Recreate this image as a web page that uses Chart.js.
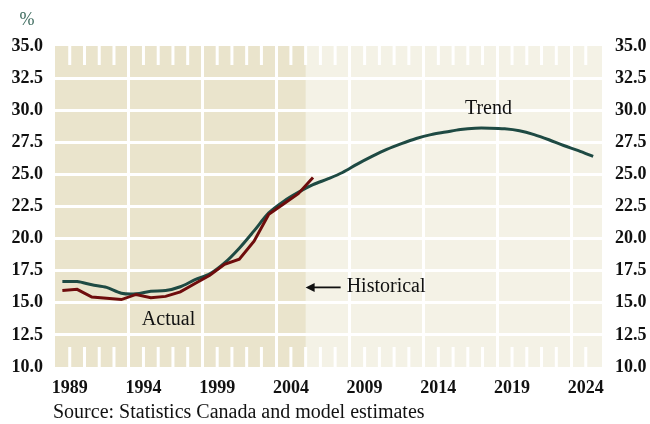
<!DOCTYPE html>
<html>
<head>
<meta charset="utf-8">
<script src="https://cdn.jsdelivr.net/npm/chart.js@4.4.1/dist/chart.umd.min.js"></script>
<style>
  html, body { margin: 0; padding: 0; background: #ffffff; }
</style>
</head>
<body>
<canvas id="trendChart" width="650" height="424"></canvas>
<script>
// Annual data, each year plotted at mid-year
const actualYears = [1988, 1989, 1990, 1991, 1992, 1993, 1994, 1995, 1996, 1997,
    1998, 1999, 2000, 2001, 2002, 2003, 2004, 2005];
const actualValues = [15.95, 16.05, 15.45, 15.35, 15.25, 15.65, 15.4, 15.5, 15.85, 16.5,
    17.15, 18.0, 18.4, 19.8, 21.9, 22.7, 23.5, 24.75];

const trendYears = [1988, 1989, 1990, 1991, 1992, 1993, 1994, 1995, 1996, 1997,
    1998, 1999, 2000, 2001, 2002, 2003, 2004, 2005, 2006, 2007,
    2008, 2009, 2010, 2011, 2012, 2013, 2014, 2015, 2016, 2017,
    2018, 2019, 2020, 2021, 2022, 2023, 2024];
const trendValues = [16.65, 16.65, 16.4, 16.2, 15.75, 15.7, 15.9, 15.95, 16.25, 16.8,
    17.25, 18.1, 19.25, 20.6, 22.0, 22.9, 23.6, 24.2, 24.65, 25.15,
    25.8, 26.4, 26.95, 27.4, 27.8, 28.1, 28.3, 28.5, 28.6, 28.6,
    28.55, 28.4, 28.1, 27.7, 27.25, 26.85, 26.4];

const xLabelYears = [1989, 1994, 1999, 2004, 2009, 2014, 2019, 2024];
const gridYears = [1993, 1998, 2003, 2008, 2013, 2018, 2023];
const historicalEnd = 2005;

const serif = "'Liberation Serif', 'Times New Roman', serif";
Chart.defaults.font.family = serif;

// Backgrounds, short year ticks and the text notes
const decorPlugin = {
    id: 'decor',
    beforeDraw(chart) {
        const { ctx, chartArea: a, scales: { x } } = chart;
        const xHist = x.getPixelForValue(historicalEnd);
        ctx.save();
        ctx.fillStyle = '#f4f2e6';
        ctx.fillRect(a.left, a.top, a.right - a.left, a.bottom - a.top);
        ctx.fillStyle = '#eae4cc';
        ctx.fillRect(a.left, a.top, xHist - a.left, a.bottom - a.top);
        ctx.restore();
    },
    beforeDatasetsDraw(chart) {
        const { ctx, chartArea: a, scales: { x } } = chart;
        ctx.save();
        ctx.strokeStyle = '#ffffff';
        ctx.lineWidth = 3;
        x.ticks.forEach(t => {
            if (gridYears.includes(t.value)) return;
            const px = x.getPixelForValue(t.value);
            ctx.beginPath();
            ctx.moveTo(px, a.top);
            ctx.lineTo(px, a.top + 19);
            ctx.moveTo(px, a.bottom);
            ctx.lineTo(px, a.bottom - 20);
            ctx.stroke();
        });
        ctx.restore();
    },
    afterDraw(chart) {
        const { ctx, scales: { x, y } } = chart;
        ctx.save();
        ctx.fillStyle = '#111111';
        ctx.font = '20px ' + serif;
        ctx.textBaseline = 'alphabetic';

        ctx.textAlign = 'center';
        ctx.fillText('Trend', x.getPixelForValue(2017.4), y.getPixelForValue(29.7));
        ctx.fillText('Actual', x.getPixelForValue(1995.7), y.getPixelForValue(13.25));

        // arrow pointing back at the historical block
        const ay = y.getPixelForValue(16.2);
        const ax = x.getPixelForValue(historicalEnd);
        ctx.strokeStyle = '#111111';
        ctx.lineWidth = 1.8;
        ctx.beginPath();
        ctx.moveTo(ax + 6, ay);
        ctx.lineTo(ax + 35, ay);
        ctx.stroke();
        ctx.beginPath();
        ctx.moveTo(ax, ay);
        ctx.lineTo(ax + 9, ay - 4.5);
        ctx.lineTo(ax + 9, ay + 4.5);
        ctx.closePath();
        ctx.fill();
        ctx.textAlign = 'left';
        ctx.fillText('Historical', ax + 41, ay + 5);

        ctx.fillText('Source: Statistics Canada and model estimates', 53, 418);

        ctx.fillStyle = '#3d6b5e';
        ctx.font = '18px ' + serif;
        ctx.textAlign = 'center';
        ctx.fillText('%', 27, 25);
        ctx.restore();
    }
};

const yTickFont = { family: serif, size: 18, weight: 'bold' };

new Chart(document.getElementById('trendChart'), {
    type: 'line',
    data: {
        datasets: [
            {
                label: 'Actual',
                data: actualYears.map((yr, i) => ({ x: yr + 0.5, y: actualValues[i] })),
                borderColor: '#6e0c0c',
                borderWidth: 3,
                pointRadius: 0,
                tension: 0,
                order: 0
            },
            {
                label: 'Trend',
                data: trendYears.map((yr, i) => ({ x: yr + 0.5, y: trendValues[i] })),
                borderColor: '#1e4a43',
                borderWidth: 3,
                pointRadius: 0,
                tension: 0.3,
                order: 1
            }
        ]
    },
    options: {
        responsive: false,
        animation: false,
        devicePixelRatio: 1,
        layout: { padding: { top: 46, left: 0, right: 0, bottom: 0 } },
        plugins: {
            legend: { display: false },
            tooltip: { enabled: false }
        },
        scales: {
            x: {
                type: 'linear',
                min: 1988,
                max: 2025.1,
                afterBuildTicks(scale) {
                    const ticks = [];
                    for (let yr = 1989; yr <= 2024; yr++) ticks.push({ value: yr });
                    scale.ticks = ticks;
                },
                afterFit(scale) { scale.height = 57; },
                ticks: {
                    autoSkip: false,
                    maxRotation: 0,
                    padding: 11,
                    color: '#111111',
                    font: yTickFont,
                    callback: v => xLabelYears.includes(v) ? String(v) : ''
                },
                grid: {
                    drawTicks: false,
                    lineWidth: 3,
                    color: c => gridYears.includes(c.tick && c.tick.value) ? '#ffffff' : 'rgba(0,0,0,0)'
                },
                border: { display: false }
            },
            y: {
                position: 'left',
                min: 10,
                max: 35,
                afterFit(scale) { scale.width = 55; },
                ticks: {
                    stepSize: 2.5,
                    padding: 12,
                    color: '#111111',
                    font: yTickFont,
                    callback: v => v.toFixed(1)
                },
                grid: {
                    drawTicks: false,
                    lineWidth: 3,
                    color: c => (c.tick && c.tick.value > 10 && c.tick.value < 35) ? '#ffffff' : 'rgba(0,0,0,0)'
                },
                border: { display: false }
            },
            y2: {
                position: 'right',
                min: 10,
                max: 35,
                afterFit(scale) { scale.width = 48; },
                ticks: {
                    stepSize: 2.5,
                    padding: 13,
                    color: '#111111',
                    font: yTickFont,
                    callback: v => v.toFixed(1)
                },
                grid: { display: false, drawTicks: false },
                border: { display: false }
            }
        }
    },
    plugins: [decorPlugin]
});
</script>
</body>
</html>
